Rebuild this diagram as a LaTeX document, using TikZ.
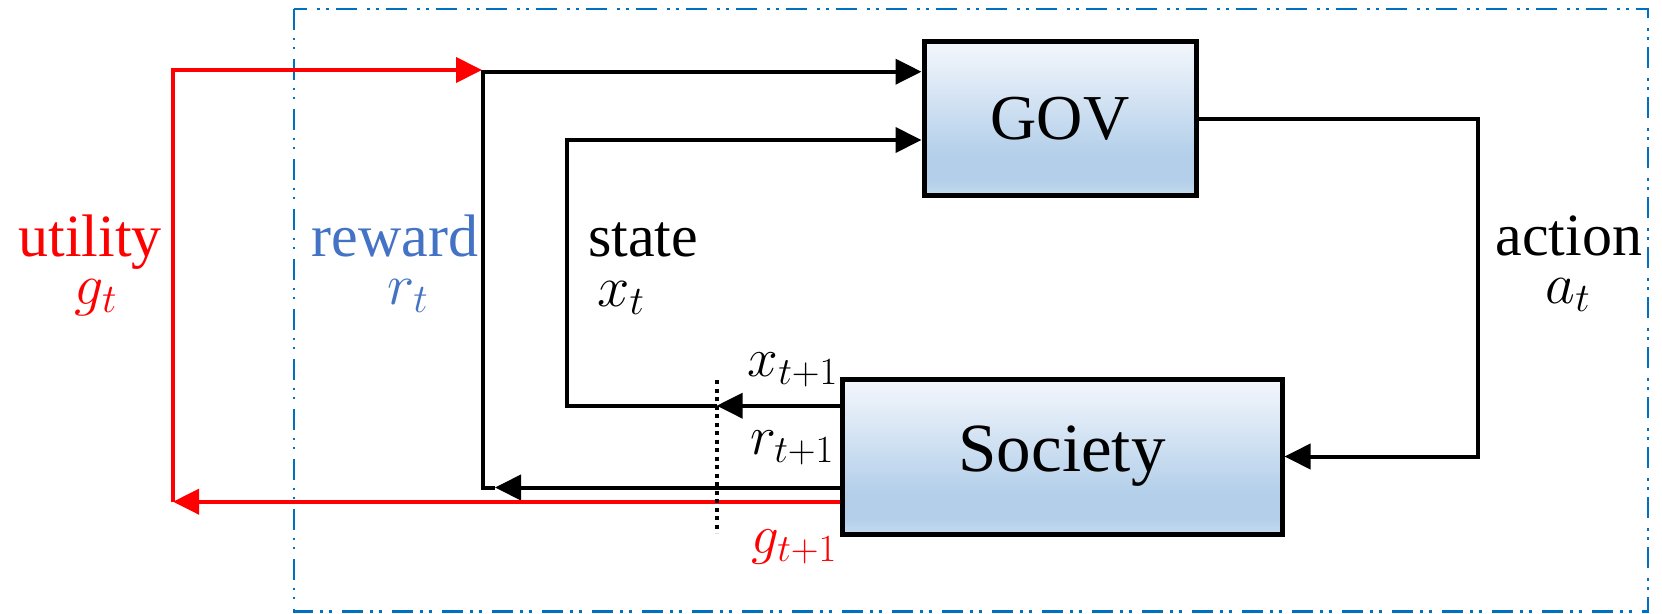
\RequirePackage{fix-cm}
\documentclass[tikz,border=0pt]{standalone}
\usepackage{fontspec}
\setmainfont{Liberation Serif}
\usetikzlibrary{arrows.meta}
\definecolor{frameblue}{RGB}{0,112,192}
\definecolor{rewardblue}{RGB}{68,114,196}
\definecolor{shadetop}{RGB}{244,247,252}
\definecolor{shademid}{RGB}{179,207,234}
\definecolor{shadebot}{RGB}{197,219,239}
\pgfdeclareverticalshading{boxshade}{100bp}{color(0bp)=(shadebot); color(25bp)=(shadebot); color(30bp)=(shademid); color(38bp)=(shademid); color(75bp)=(shadetop); color(100bp)=(shadetop)}
\tikzset{
  frame/.style={draw=frameblue, line width=2.8pt, dash pattern=on 21pt off 7.5pt on 2.5pt off 6.5pt on 2.5pt off 10pt},
  box/.style={draw=black, line width=5pt, shade, shading=boxshade, inner sep=0pt},
  conn/.style={line width=4pt, line join=miter},
  arr/.style={-{Triangle[length=26pt,width=25pt]}},
  dotline/.style={line width=4.2pt, dash pattern=on 4pt off 4.5pt},
  lbl/.style={font=\fontsize{60}{70}\selectfont, inner sep=0pt, anchor=base},
  mth/.style={font=\fontsize{58}{68}\selectfont, inner sep=0pt},
  mthb/.style={font=\fontsize{55}{64}\selectfont, inner sep=0pt},
}
\begin{document}
\begin{tikzpicture}[x=1pt,y=-1pt]
\useasboundingbox (0,0) rectangle (1662,613);
\draw[frame] (294,9) rectangle (1648,611.5);

\node[box, minimum width=272pt, minimum height=154pt] (gov) at (1060,118.7) {\fontsize{64}{74}\selectfont GOV};
\node[box, minimum width=440pt, minimum height=155pt] (soc) at (1062,456.5) {\fontsize{69}{80}\selectfont Society};

\coordinate (rcorner) at (482.7,487.5);
\coordinate (rtip) at (495,487.5);
\coordinate (rtop) at (482.7,71.7);
\coordinate (scorner) at (567,405.7);
\coordinate (stip) at (716.7,405.7);
\coordinate (stop) at (567,140);
\coordinate (aright) at (1478,300);
\coordinate (ucorner) at (173,501.7);
\coordinate (utop) at (173,70);
\coordinate (utip) at (482,70);
\coordinate (dtop) at (716.7,380);
\coordinate (dbot) at (716.7,533);

% reward loop (black)
\draw[conn,arr] (soc.west |- rcorner) -- (rtip);
\draw[conn,arr] (rtip) -- (rcorner) -- (rtop) -- (gov.west |- rtop);
% state loop
\draw[conn,arr] (soc.west |- scorner) -- (stip);
\draw[conn,arr] (stip) -- (scorner) -- (stop) -- (gov.west |- stop);
% action
\draw[conn,arr] (gov.east) -- (gov.east -| aright) -- (soc.east -| aright) -- (soc.east);
% utility (red)
\draw[conn,red,arr] (soc.west |- ucorner) -- (ucorner);
\draw[conn,red,arr] (ucorner) -- (utop) -- (utip);
% dotted separator
\draw[dotline] (dtop) -- (dbot);

% labels
\node[lbl, text=red] (lutil) at (90,256) {utility};
\node[mth, text=red, anchor=base] (lgt) at (96,304) {$g_t$};
\node[lbl, text=rewardblue] (lrew) at (395,256) {reward};
\node[mth, text=rewardblue, anchor=base] (lrt) at (408,304) {$r_t$};
\node[lbl] (lstate) at (643,256) {state};
\node[mth, anchor=base] (lxt) at (621,306) {$x_t$};
\node[lbl] (lact) at (1569,255) {action};
\node[mth, anchor=base] (lat) at (1568,303) {$a_t$};
\node[mthb, anchor=base east] (lx1) at (838,376.7) {$x_{t+1}$};
\node[mthb, anchor=base east] (lr1) at (834,454) {$r_{t+1}$};
\node[mthb, text=red, anchor=base east] (lg1) at (837,553) {$g_{t+1}$};
\end{tikzpicture}
\end{document}
